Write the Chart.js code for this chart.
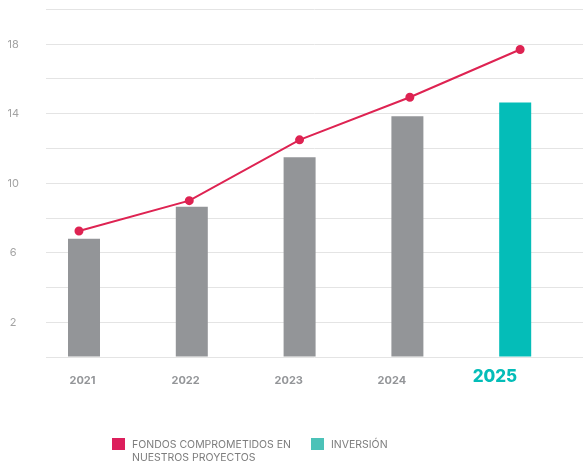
<!DOCTYPE html>
<html>
<head>
<meta charset="utf-8">
<script src="https://cdn.jsdelivr.net/npm/chart.js@4"></script>
<style>
  html, body { margin: 0; padding: 0; background: #fff; }
  #wrap { position: relative; width: 583px; height: 463px; }
  .legend { position: absolute; top: 438px; font-family: Inter, sans-serif; font-size: 10.5px; line-height: 13px; color: #7d7d7d; }
  .legend .box { position: absolute; left: 0; top: 0; width: 13px; height: 12px; }
  .legend span { display: block; padding-left: 20px; }
</style>
</head>
<body>
<div id="wrap">
  <canvas id="chart" width="583" height="463"></canvas>
  <div class="legend" style="left:112px"><div class="box" style="background:#dc1f5c"></div><span>FONDOS COMPROMETIDOS EN<br>NUESTROS PROYECTOS</span></div>
  <div class="legend" style="left:311px"><div class="box" style="background:#4cc2b8"></div><span>INVERSIÓN</span></div>
</div>
<script>
const years = ['2021', '2022', '2023', '2024', '2025'];
const inversion = [6.8, 8.65, 11.5, 13.85, 14.65];
const fondos = [7.25, 9.0, 12.5, 14.95, 17.7];
const yLabels = [2, 6, 10, 14, 18];

const grey = '#939598';
const teal = '#04bdb8';
const red = '#de2352';

// keep the axes from pushing the plot area around
const noPad = s => { s.paddingLeft = 0; s.paddingRight = 0; s.paddingTop = 0; s.paddingBottom = 0; };

const ctx = document.getElementById('chart').getContext('2d');
new Chart(ctx, {
    data: {
        datasets: [
            {
                type: 'line',
                label: 'FONDOS COMPROMETIDOS EN NUESTROS PROYECTOS',
                data: fondos.map((v, i) => ({ x: i, y: v })),
                xAxisID: 'xLine',
                borderColor: red,
                backgroundColor: red,
                borderWidth: 2,
                pointRadius: 3.5,
                pointHoverRadius: 3.5,
                order: 0,
            },
            {
                type: 'bar',
                label: 'INVERSIÓN',
                data: inversion.map((v, i) => ({ x: i, y: v })),
                xAxisID: 'x',
                backgroundColor: years.map((y, i) => i === years.length - 1 ? teal : grey),
                grouped: false,
                maxBarThickness: 32,
                order: 1,
            },
        ],
    },
    options: {
        responsive: false,
        animation: false,
        layout: { autoPadding: false, padding: { top: 9.5, left: 0, right: 0, bottom: 66 } },
        plugins: { legend: { display: false }, tooltip: { enabled: false } },
        scales: {
            x: { type: 'linear', display: false, offset: false, min: -0.3525, max: 4.629, afterFit: noPad },
            xLine: { type: 'linear', display: false, offset: false, min: -0.299, max: 4.57, afterFit: noPad },
            xLabel: {
                type: 'linear',
                position: 'bottom',
                offset: false,
                min: -0.354,
                max: 4.854,
                afterBuildTicks: s => { s.ticks = years.map((_, i) => ({ value: i })); },
                afterFit: s => { noPad(s); s.height = 40; },
                grid: { display: false, drawTicks: false },
                border: { display: false },
                ticks: {
                    padding: 20,
                    maxRotation: 0,
                    autoSkip: false,
                    crossAlign: 'center',
                    callback: v => years[v],
                    color: c => c.index === years.length - 1 ? teal : grey,
                    font: c => c.index === years.length - 1
                        ? { family: 'Inter', size: 17, weight: '800' }
                        : { family: 'Inter', size: 11, weight: '700' },
                },
            },
            y: {
                min: 0,
                max: 20,
                afterFit: s => { noPad(s); s.width = 46; },
                border: { display: false },
                grid: { color: '#e4e4e4', lineWidth: 1, drawTicks: false },
                ticks: {
                    stepSize: 2,
                    padding: 27,
                    crossAlign: 'center',
                    color: '#a3a3a3',
                    font: { family: 'Inter', size: 11 },
                    callback: v => yLabels.includes(v) ? v : '',
                },
            },
        },
    },
});
</script>
</body>
</html>
